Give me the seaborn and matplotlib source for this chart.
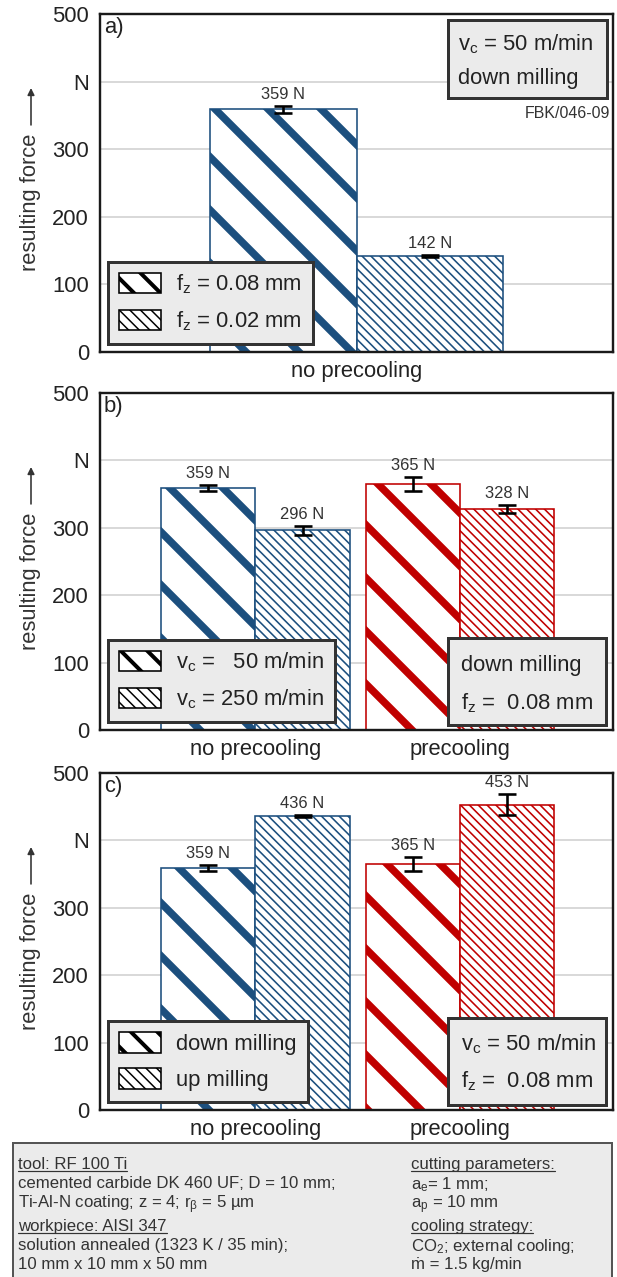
import matplotlib
matplotlib.use("Agg")
import pandas as pd
import matplotlib.pyplot as plt
import seaborn as sns
from matplotlib.patches import Patch, Rectangle
from matplotlib.lines import Line2D

# size of the output in pixels; dpi chosen so that the hatch spacing fits the stripes
W_PX, H_PX = 617, 1277
DPI = 318


def px(v):
    # pixel length -> points
    return v * 72 / DPI


# -------- data --------
cond_a = ["no precooling"]
cond_bc = ["no precooling", "precooling"]

feed_levels = ["0.08", "0.02"]
feed_labels = [r"f$_z$ = 0.08 mm", r"f$_z$ = 0.02 mm"]
feed_008_force = [359]
feed_008_err = [5]
feed_002_force = [142]
feed_002_err = [1]

speed_levels = ["50", "250"]
speed_labels = [r"v$_c$ =   50 m/min", r"v$_c$ = 250 m/min"]
speed_50_force = [359, 365]
speed_50_err = [5, 11]
speed_250_force = [296, 328]
speed_250_err = [7, 5.5]

mode_levels = ["down", "up"]
mode_labels = ["down milling", "up milling"]
down_force = [359, 365]
down_err = [5, 10.5]
up_force = [436, 453]
up_err = [2, 16]

ytick_vals = [0, 100, 200, 300, 400, 500]
ytick_labels = ["0", "100", "200", "300", "N", "500"]

COND_COLORS = {"no precooling": "#1c4f7e", "precooling": "#c00000"}
BAR_HATCH = ["\\" * 2, "\\" * 12]
BAR_HATCH_LW = [px(7.5), px(1.6)]
LEG_HATCH = ["\\" * 4, "\\" * 10]
LEG_HATCH_LW = [px(4), px(1.5)]
BOX_BG = "#ebebeb"
BOX_EC = "#333333"
TXT = "#222222"
FONT = ["Liberation Sans", "DejaVu Sans"]

sns.set_style("white")
plt.rcParams["font.family"] = FONT
plt.rcParams["mathtext.default"] = "regular"
plt.rcParams["hatch.linewidth"] = px(1.6)

fig = plt.figure(figsize=(W_PX / DPI, H_PX / DPI), dpi=DPI)


def panel_axes(box):
    left, top, right, bottom = box
    return fig.add_axes([left / W_PX, 1 - bottom / H_PX,
                         (right - left) / W_PX, (bottom - top) / H_PX])


def frac(box, x, y):
    # figure pixel position -> axes fraction
    left, top, right, bottom = box
    return (x - left) / (right - left), (bottom - y) / (bottom - top)


def set_hatch_lw(p, lw):
    try:
        p.set_hatch_linewidth(lw)
    except AttributeError:
        p._hatch_linewidth = lw


def draw_panel(box, tag, conds, levels, forces, errs, width, xlim,
               leg_labels, note_lines, note_box, note_text_x, note_ys):
    ax = panel_axes(box)
    rows = []
    for lev, fl, el in zip(levels, forces, errs):
        for c, f, e in zip(conds, fl, el):
            rows.append({"cond": c, "level": lev, "force": f, "err": e})
    df = pd.DataFrame(rows)

    sns.barplot(data=df, x="cond", y="force", hue="level", order=conds,
                hue_order=levels, errorbar=None, width=width, legend=False,
                saturation=1, ax=ax)

    bar_conts = list(ax.containers)
    for k, cont in enumerate(bar_conts):
        for bar in cont:
            xc = bar.get_x() + bar.get_width() / 2
            cond = conds[int(round(xc))]
            col = COND_COLORS[cond]
            bar.set_facecolor("white")
            bar.set_edgecolor(col)
            bar.set_linewidth(px(1.6))
            bar.set_hatch(BAR_HATCH[k])
            set_hatch_lw(bar, BAR_HATCH_LW[k])
            bar.set_zorder(2)
            row = df[(df["cond"] == cond) & (df["level"] == levels[k])].iloc[0]
            top = bar.get_height()
            ax.errorbar(xc, top, yerr=row["err"], fmt="none", ecolor="black",
                        elinewidth=px(2.6), capsize=px(9), capthick=px(2.6),
                        zorder=4)
            ax.annotate(f"{row['force']:.0f} N", (xc, top + row["err"]),
                        xytext=(0, px(4)), textcoords="offset points",
                        ha="center", va="bottom", fontsize=px(16.5),
                        color="#333333", zorder=4)

    ax.set_xlim(*xlim)
    ax.set_ylim(0, 500)
    ax.set_yticks(ytick_vals)
    ax.set_yticklabels(ytick_labels)
    ax.set_xlabel("")
    ax.set_ylabel("resulting force", fontsize=px(22), color="#333333")
    ax.yaxis.set_label_coords(*frac(box, 41, box[1] + 188))
    # arrow above the axis title
    ax.annotate("", xy=frac(box, 31, box[1] + 74), xytext=frac(box, 31, box[1] + 111),
                xycoords="axes fraction", textcoords="axes fraction",
                annotation_clip=False,
                arrowprops=dict(arrowstyle="-|>", color="#333333",
                                lw=px(1.6), mutation_scale=px(14),
                                shrinkA=0, shrinkB=0))
    ax.tick_params(length=0, labelsize=px(22), labelcolor=TXT)
    ax.tick_params(axis="y", pad=px(11))
    ax.tick_params(axis="x", pad=px(9))
    ax.yaxis.grid(True, color="#d9d9d9", linewidth=px(2))
    ax.set_axisbelow(True)
    for s in ax.spines.values():
        s.set_linewidth(px(2.4))
        s.set_color("#1a1a1a")
        s.set_zorder(6)

    ax.text(*frac(box, box[0] + 4, box[1] + 3), tag, transform=ax.transAxes,
            ha="left", va="top", fontsize=px(22), color=TXT)

    # legend with hatch swatches
    handles = [Patch(facecolor="white", edgecolor="black", hatch=h,
                     linewidth=px(1.6)) for h in LEG_HATCH]
    leg = ax.legend(handles, leg_labels, loc="lower left",
                    bbox_to_anchor=frac(box, 108, box[3] - 8), borderaxespad=0,
                    frameon=True, fancybox=False, facecolor=BOX_BG,
                    edgecolor=BOX_EC, framealpha=1, fontsize=px(22),
                    handlelength=1.9, handleheight=1.05, handletextpad=0.7,
                    labelspacing=0.6, borderpad=0.5)
    leg.get_frame().set_linewidth(px(3))
    leg.set_zorder(7)
    for p, lw in zip(leg.get_patches(), LEG_HATCH_LW):
        set_hatch_lw(p, lw)
    for t in leg.get_texts():
        t.set_color(TXT)

    # condition box
    x0, y0, x1, y1 = note_box
    fx0, fy1 = frac(box, x0, y1)
    fx1, fy0 = frac(box, x1, y0)
    ax.add_patch(Rectangle((fx0, fy1), fx1 - fx0, fy0 - fy1,
                           transform=ax.transAxes, facecolor=BOX_BG,
                           edgecolor=BOX_EC, linewidth=px(3), zorder=7))
    for line, yy in zip(note_lines, note_ys):
        ax.text(*frac(box, note_text_x, yy), line, transform=ax.transAxes,
                ha="left", va="center_baseline", fontsize=px(22), color=TXT,
                zorder=8)
    return ax


box_a = (100, 14, 613, 352)
box_b = (100, 393, 613, 730)
box_c = (100, 773, 613, 1110)

ax_a = draw_panel(box_a, "a)", cond_a, feed_levels,
                  [feed_008_force, feed_002_force], [feed_008_err, feed_002_err],
                  0.573, (-0.5, 0.5), feed_labels,
                  [r"v$_c$ = 50 m/min", "down milling"], (448, 20, 607, 98),
                  458, [41, 76])
ax_a.text(*frac(box_a, 610, 113), "FBK/046-09", transform=ax_a.transAxes,
          ha="right", va="center", fontsize=px(16), color="#333333")

draw_panel(box_b, "b)", cond_bc, speed_levels,
           [speed_50_force, speed_250_force], [speed_50_err, speed_250_err],
           0.92, (-0.76, 1.748), speed_labels,
           ["down milling", r"f$_z$ =  0.08 mm"], (448, 638, 606, 725),
           461, [663, 700])

draw_panel(box_c, "c)", cond_bc, mode_levels,
           [down_force, up_force], [down_err, up_err],
           0.92, (-0.76, 1.748), mode_labels,
           [r"v$_c$ = 50 m/min", r"f$_z$ =  0.08 mm"], (448, 1018, 606, 1105),
           461, [1041, 1078])

# -------- info box at the bottom --------
fig.add_artist(Rectangle((13 / W_PX, -0.01), (612 - 13) / W_PX,
                         1 - 1143 / H_PX + 0.01, transform=fig.transFigure,
                         facecolor=BOX_BG, edgecolor="#555555",
                         linewidth=px(2)))

left_col = [("tool: RF 100 Ti", True, 1163),
            ("cemented carbide DK 460 UF; D = 10 mm;", False, 1182),
            (r"Ti-Al-N coating; z = 4; r$_β$ = 5 µm", False, 1201),
            ("workpiece: AISI 347", True, 1225),
            ("solution annealed (1323 K / 35 min);", False, 1244),
            ("10 mm x 10 mm x 50 mm", False, 1263)]
right_col = [("cutting parameters:", True, 1163),
             (r"a$_e$= 1 mm;", False, 1182),
             (r"a$_p$ = 10 mm", False, 1201),
             ("cooling strategy:", True, 1225),
             (r"CO$_2$; external cooling;", False, 1244),
             ("\u1e41 = 1.5 kg/min", False, 1263)]

heads = []
for col_x, col in [(18, left_col), (411, right_col)]:
    for txt, underline, yy in col:
        t = fig.text(col_x / W_PX, 1 - yy / H_PX, txt, ha="left",
                     va="center_baseline", fontsize=px(16.8), color="#333333")
        if underline:
            heads.append(t)

fig.canvas.draw()
renderer = fig.canvas.get_renderer()
inv = fig.transFigure.inverted()
for t in heads:
    bb = t.get_window_extent(renderer)
    (ux0, uy), (ux1, _) = inv.transform([(bb.x0, bb.y0 + 1), (bb.x1, bb.y0 + 1)])
    fig.add_artist(Line2D([ux0, ux1], [uy, uy], transform=fig.transFigure,
                          color="#333333", linewidth=px(1.2)))

fig.savefig("out.png", dpi=DPI)
